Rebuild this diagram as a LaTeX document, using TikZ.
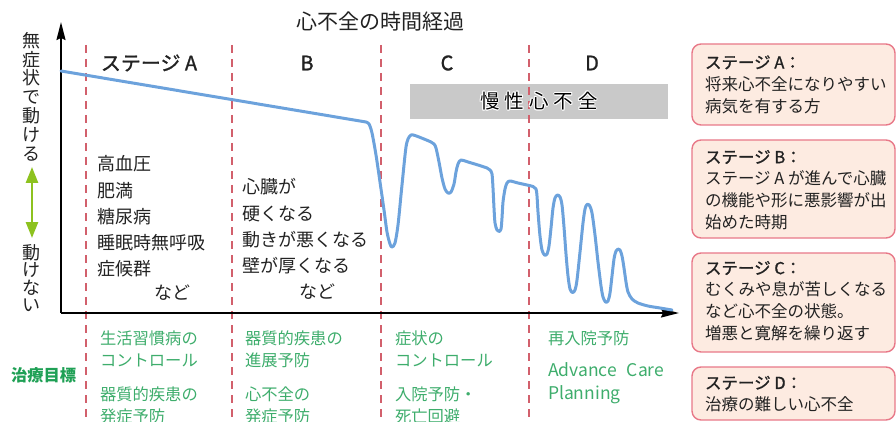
\documentclass[tikz,border=0pt]{standalone}
\usepackage{fontspec}
\setmainfont{Noto Sans CJK JP}
\newfontfamily\medfont[FakeBold=1.2]{Noto Sans CJK JP}
\usetikzlibrary{arrows.meta}
\definecolor{curveblue}{HTML}{6CA2DC}
\definecolor{dashred}{HTML}{D2606C}
\definecolor{grn}{HTML}{3EAD6C}
\definecolor{grndark}{HTML}{1FA055}
\definecolor{boxfill}{HTML}{FDEBE1}
\definecolor{boxline}{HTML}{E87888}
\definecolor{lime}{HTML}{8DC21F}
\definecolor{band}{HTML}{C9C9C9}
\definecolor{ink}{HTML}{222222}
\newcommand{\halotxt}[1]{\leavevmode
  \rlap{\color{white}\hspace*{-0.9pt}#1}%
  \rlap{\color{white}\hspace*{0.9pt}#1}%
  \rlap{\color{white}\raisebox{0.9pt}{#1}}%
  \rlap{\color{white}\raisebox{-0.9pt}{#1}}%
  \rlap{\color{white}\hspace*{-0.7pt}\raisebox{0.7pt}{#1}}%
  \rlap{\color{white}\hspace*{0.7pt}\raisebox{0.7pt}{#1}}%
  \rlap{\color{white}\hspace*{-0.7pt}\raisebox{-0.7pt}{#1}}%
  \rlap{\color{white}\hspace*{0.7pt}\raisebox{-0.7pt}{#1}}%
  #1}
\begin{document}
\begin{tikzpicture}[x=1pt,y=-1pt,
  every node/.style={inner sep=0pt, outer sep=0pt},
  axisline/.style={line width=1.8pt, -{Stealth[length=18pt,width=9pt,inset=2pt]}},
  stagesep/.style={dashred, line width=1.3pt, dash pattern=on 8pt off 6pt},
  hdr/.style={font=\medfont\fontsize{20}{24}\selectfont, text=ink},
  body/.style={font=\fontsize{18}{26.3}\selectfont, text=ink, align=left, anchor=west},
  goal/.style={font=\fontsize{16.3}{22}\selectfont, text=grn, align=left, anchor=west},
  stbox/.style={draw=boxline, fill=boxfill, line width=1.4pt, rounded corners=9pt, anchor=north west},
  boxtxt/.style={font=\fontsize{16.5}{21.8}\selectfont, text=ink, align=left, anchor=west},
  hf/.style={line width=3pt, draw=curveblue, line join=round, line cap=round},
  vlab/.style={text=ink, align=center}
]
\useasboundingbox (0,0) rectangle (896,422);

% title
\node[font=\fontsize{21}{24}\selectfont, text=ink] (title) at (380,22) {心不全の時間経過};

% gray band
\fill[band] (410,84) rectangle (668,119);

% stage separators
\coordinate (s1t) at (86,45);  \coordinate (s1b) at (86,422);
\coordinate (s2t) at (232,45); \coordinate (s2b) at (232,422);
\coordinate (s3t) at (381,45); \coordinate (s3b) at (381,422);
\coordinate (s4t) at (529,45); \coordinate (s4b) at (529,422);
\draw[stagesep] (s1t) -- (s1b);
\draw[stagesep] (s2t) -- (s2b);
\draw[stagesep] (s3t) -- (s3b);
\draw[stagesep] (s4t) -- (s4b);

\node[font=\fontsize{19.5}{24}\selectfont, text=black] (chronic) at (539,101)
  {\halotxt{慢}\hspace{5pt}\halotxt{性}\hspace{5pt}\halotxt{心}\hspace{5pt}\halotxt{不}\hspace{5pt}\halotxt{全}};

% stage headers
\node[hdr] (hA) at (149,63) {ステージ A};
\node[hdr] (hB) at (307,63) {B};
\node[hdr] (hC) at (447,63) {C};
\node[hdr] (hD) at (592,63) {D};

% axes
\coordinate (org) at (61,313);
\coordinate (ytop) at (61,22);
\coordinate (xend) at (679,313);
\draw[axisline] (org) -- (ytop);
\draw[axisline] (org) -- (xend);

% curve
\draw[hf] (61,71) -- (366,122)
  plot[smooth, tension=0.5] coordinates {
  (366,122) (369,124) (372,133) (376,155) (380,182) (384,210) (387,232) (390,244) (392,247)
  (395,243) (398,225) (401,195) (404,165) (406,147) (408,139) (411,135) (415,135.5)
  (424,139) (431,142) (434,144) (436,148) (439,162) (442,178) (445,189) (448,193) (451,192)
  (454,184) (456,172) (458,164) (461,160) (468,162) (478,165) (487,168) (490,170) (492,174)
  (493,188) (494,208) (495,223) (497,230) (499,231.5) (501,229) (502,218) (503,202) (505,189)
  (507,183) (510,181) (518,183) (527,185) (533,186.5) (536,189) (537,196) (538,212) (540,236)
  (542,250) (544.5,255) (547,254) (549,246) (551,228) (553,208) (555,198) (557.5,195)
  (560,197) (562,205) (564,227) (566,254) (568,276) (570,289) (572.5,292.5) (575,290)
  (577,280) (580,252) (583,223) (585,209) (587,204.5) (589.5,205.5) (592,213) (595,235)
  (598,262) (601,286) (603,297) (605.5,302) (608,301) (610,293) (612,276) (614,259)
  (616,251) (618,249) (620,250) (622,256) (624,268) (626,282) (628,292) (632,299)
  (638,303) (648,306) (660,308) (672,310)};

% vertical labels
\node[vlab, font=\fontsize{18}{18.8}\selectfont] (yes) at (32,96.5) {無\\症\\状\\で\\動\\け\\る};
\node[vlab, font=\fontsize{18}{17.4}\selectfont] (no) at (32,278) {動\\け\\な\\い};
\coordinate (arT) at (32,167);
\coordinate (arB) at (32,238);
\draw[lime, line width=2.6pt, {Triangle[length=16pt,width=12pt]}-{Triangle[length=16pt,width=12pt]}] (arT) -- (arB);

% stage texts
\node[body] (listA) at (97,216.5) {高血圧\\肥満\\糖尿病\\睡眠時無呼吸\\症候群};
\node[body, anchor=center] (etcA) at (172,293) {など};
\node[body] (listB) at (242,226.5) {心臓が\\硬くなる\\動きが悪くなる\\壁が厚くなる};
\node[body, anchor=center] (etcB) at (317,292) {など};

% goals
\node[font=\bfseries\fontsize{16.3}{20}\selectfont, text=grndark, anchor=west] (goalhd) at (11,375) {治療目標};
\node[goal] (gA1) at (100,349) {生活習慣病の\\コントロール};
\node[goal] (gA2) at (100,405) {器質的疾患の\\発症予防};
\node[goal] (gB1) at (245,349) {器質的疾患の\\進展予防};
\node[goal] (gB2) at (245,405) {心不全の\\発症予防};
\node[goal] (gC1) at (395,349) {症状の\\コントロール};
\node[goal] (gC2) at (395,405) {入院予防・\\死亡回避};
\node[goal] (gD1) at (548,338) {再入院予防};
\node[goal, font=\fontsize{17.5}{23}\selectfont] (gD2) at (548,383.5) {Advance\hspace{10pt}Care\\Planning};

% stage description boxes
\node[stbox, minimum width=203pt, minimum height=81pt] (bA) at (692,44) {};
\node[stbox, minimum width=203pt, minimum height=98pt] (bB) at (692,140) {};
\node[stbox, minimum width=203pt, minimum height=99pt] (bC) at (692,253) {};
\node[stbox, minimum width=203pt, minimum height=53pt] (bD) at (692,367) {};
\node[boxtxt] (tA) at (705,84.5) {{\medfont ステージ A：}\\将来心不全になりやすい\\病気を有する方};
\node[boxtxt] (tB) at (705,190) {{\medfont ステージ B：}\\ステージ A が進んで心臓\\の機能や形に悪影響が出\\始めた時期};
\node[boxtxt] (tC) at (705,301) {{\medfont ステージ C：}\\むくみや息が苦しくなる\\など心不全の状態。\\増悪と寛解を繰り返す};
\node[boxtxt] (tD) at (705,394) {{\medfont ステージ D：}\\治療の難しい心不全};
\end{tikzpicture}
\end{document}
